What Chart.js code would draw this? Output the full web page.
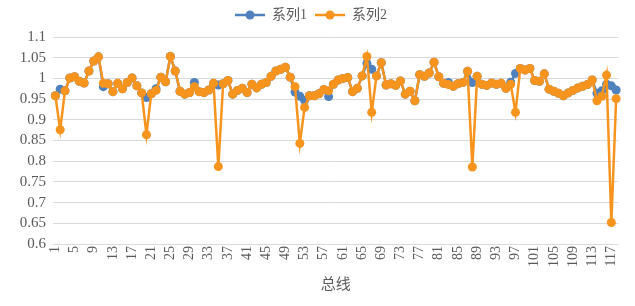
<!DOCTYPE html>
<html>
<head>
<meta charset="utf-8">
<script src="https://cdn.jsdelivr.net/npm/chart.js@4"></script>
<style>
  html, body { margin: 0; padding: 0; background: #fff; }
  #wrap { width: 635px; height: 306px; }
</style>
</head>
<body>
<div id="wrap"><canvas id="myChart" width="635" height="306"></canvas></div>
<script>
// categories 1..118
const categories = Array.from({ length: 118 }, (_, i) => String(i + 1));

const seriesNames = ['系列1', '系列2'];

const series1 = [
  0.958, 0.974, 0.970, 1.001, 1.004, 0.993, 0.989, 1.018, 1.042, 1.052,
  0.980, 0.987, 0.968, 0.988, 0.975, 0.990, 1.001, 0.982, 0.965, 0.954,
  0.963, 0.975, 1.003, 0.992, 1.053, 1.018, 0.969, 0.962, 0.966, 0.990,
  0.968, 0.966, 0.972, 0.988, 0.984, 0.987, 0.995, 0.962, 0.971, 0.976,
  0.966, 0.986, 0.977, 0.986, 0.990, 1.005, 1.018, 1.022, 1.027, 1.003,
  0.967, 0.957, 0.947, 0.958, 0.958, 0.963, 0.973, 0.956, 0.986, 0.996,
  1.000, 1.002, 0.968, 0.976, 1.006, 1.036, 1.022, 1.006, 1.038, 0.984,
  0.987, 0.983, 0.994, 0.962, 0.969, 0.946, 1.009, 1.005, 1.013, 1.039,
  1.004, 0.988, 0.990, 0.981, 0.987, 0.990, 1.017, 0.990, 1.005, 0.986,
  0.983, 0.989, 0.986, 0.988, 0.976, 0.991, 1.012, 1.024, 1.020, 1.024,
  0.995, 0.993, 1.011, 0.974, 0.969, 0.964, 0.958, 0.965, 0.971, 0.977,
  0.981, 0.985, 0.996, 0.964, 0.970, 0.986, 0.982, 0.972
];

const series2 = [
  0.958, 0.876, 0.970, 1.001, 1.004, 0.993, 0.989, 1.018, 1.042, 1.052,
  0.988, 0.987, 0.968, 0.988, 0.975, 0.990, 1.001, 0.982, 0.965, 0.864,
  0.963, 0.971, 1.003, 0.992, 1.053, 1.018, 0.969, 0.962, 0.966, 0.980,
  0.968, 0.966, 0.972, 0.988, 0.787, 0.987, 0.995, 0.962, 0.971, 0.976,
  0.966, 0.986, 0.977, 0.986, 0.990, 1.005, 1.018, 1.022, 1.027, 1.003,
  0.980, 0.843, 0.930, 0.958, 0.958, 0.963, 0.973, 0.970, 0.986, 0.996,
  1.000, 1.002, 0.968, 0.976, 1.006, 1.053, 0.918, 1.006, 1.038, 0.984,
  0.987, 0.983, 0.994, 0.962, 0.969, 0.946, 1.009, 1.005, 1.013, 1.039,
  1.004, 0.988, 0.985, 0.981, 0.987, 0.990, 1.017, 0.786, 1.005, 0.986,
  0.983, 0.989, 0.986, 0.988, 0.976, 0.986, 0.918, 1.024, 1.020, 1.024,
  0.995, 0.993, 1.011, 0.974, 0.969, 0.964, 0.958, 0.965, 0.971, 0.977,
  0.981, 0.985, 0.996, 0.946, 0.957, 1.008, 0.652, 0.951
];

const yTicks = [0.6, 0.65, 0.7, 0.75, 0.8, 0.85, 0.9, 0.95, 1, 1.05, 1.1];

const blue = '#4F81BD';
const orange = '#F7941E';

// legend glyph: short line with a dot in the middle
function legendIcon(color) {
  const c = document.createElement('canvas');
  c.width = 30; c.height = 10;
  const g = c.getContext('2d');
  g.strokeStyle = color;
  g.lineWidth = 2.5;
  g.beginPath(); g.moveTo(0, 5); g.lineTo(30, 5); g.stroke();
  g.fillStyle = color;
  g.beginPath(); g.arc(15, 5, 4.5, 0, Math.PI * 2); g.fill();
  return c;
}

// a bit more room under the legend
const legendGap = {
  id: 'legendGap',
  beforeInit(chart) {
    const fit = chart.legend.fit;
    chart.legend.fit = function () {
      fit.bind(chart.legend)();
      this.height += 5;
    };
  }
};

const ctx = document.getElementById('myChart');

new Chart(ctx, {
  type: 'line',
  data: {
    labels: categories,
    datasets: [{
      label: seriesNames[0],
      data: series1,
      borderColor: blue,
      backgroundColor: blue,
      borderWidth: 2.5,
      pointRadius: 4.5,
      pointHoverRadius: 4.5,
      pointBorderWidth: 0,
      tension: 0,
      order: 2
    }, {
      label: seriesNames[1],
      data: series2,
      borderColor: orange,
      backgroundColor: orange,
      borderWidth: 2.5,
      pointRadius: 4.5,
      pointHoverRadius: 4.5,
      pointBorderWidth: 0,
      tension: 0,
      order: 1
    }]
  },
  plugins: [legendGap],
  options: {
    responsive: false,
    animation: false,
    devicePixelRatio: 1,
    layout: { padding: { left: 0, right: 13, top: 0, bottom: 14 } },
    plugins: {
      tooltip: { enabled: false },
      legend: {
        position: 'top',
        labels: {
          color: '#595959',
          font: { family: '"Liberation Serif", "Noto Sans CJK SC", serif', size: 14 },
          boxWidth: 30,
          boxHeight: 10,
          pointStyleWidth: 30,
          padding: 8,
          usePointStyle: true,
          generateLabels: (chart) => chart.data.datasets.map((ds, i) => ({
            text: ds.label,
            pointStyle: legendIcon(ds.borderColor),
            fillStyle: ds.borderColor,
            strokeStyle: ds.borderColor,
            lineWidth: 0,
            hidden: false,
            datasetIndex: i,
            fontColor: '#595959'
          }))
        }
      }
    },
    scales: {
      x: {
        offset: true,
        grid: { display: false, drawTicks: false },
        border: { display: false },
        ticks: {
          autoSkip: false,
          minRotation: 90,
          maxRotation: 90,
          padding: 2,
          color: '#595959',
          font: { family: '"Liberation Serif", serif', size: 14 },
          callback: function (v, i) { return i % 4 === 0 ? categories[i] : ''; }
        },
        title: {
          display: true,
          text: '总线',
          color: '#595959',
          font: { family: '"Noto Sans CJK SC", sans-serif', size: 15 },
          padding: { top: 5, bottom: 0 }
        }
      },
      y: {
        min: 0.6,
        max: 1.1,
        afterBuildTicks: (axis) => { axis.ticks = yTicks.map(v => ({ value: v })); },
        afterFit: (axis) => { axis.width = 53; },
        grid: { color: '#D9D9D9', lineWidth: 1, drawTicks: false },
        border: { display: false },
        ticks: {
          autoSkip: false,
          padding: 7,
          color: '#595959',
          font: { family: '"Liberation Serif", serif', size: 15 },
          callback: (v) => String(parseFloat(Number(v).toFixed(2)))
        }
      }
    }
  }
});
</script>
</body>
</html>
